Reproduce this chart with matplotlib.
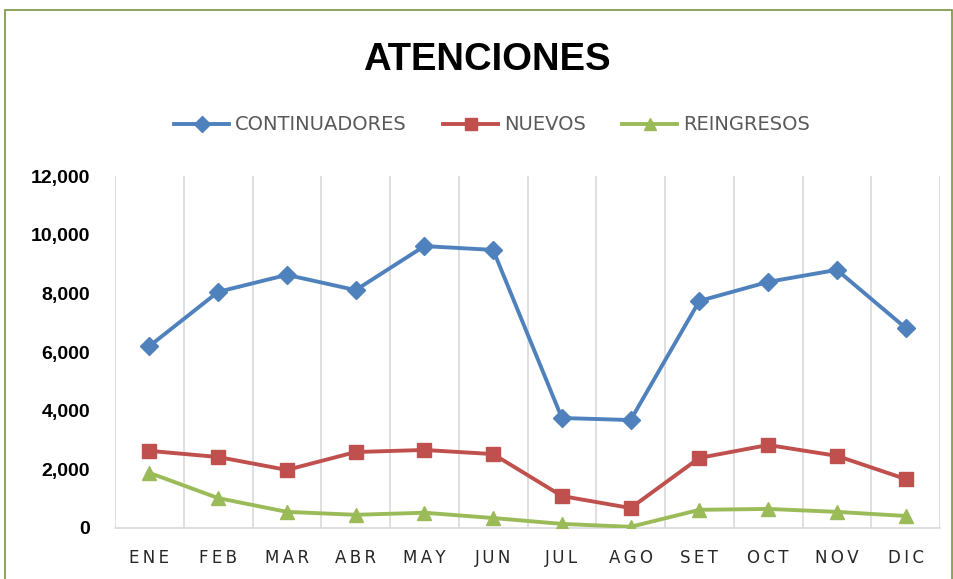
import matplotlib
matplotlib.use("Agg")
import matplotlib.pyplot as plt
from matplotlib.lines import Line2D
from matplotlib.patches import Rectangle

months = ["ENE", "FEB", "MAR", "ABR", "MAY", "JUN", "JUL", "AGO", "SET", "OCT", "NOV", "DIC"]
continuadores = [6200, 8050, 8630, 8110, 9610, 9480, 3750, 3680, 7740, 8390, 8800, 6820]
nuevos = [2630, 2420, 1980, 2590, 2660, 2520, 1090, 680, 2390, 2830, 2460, 1670]
reingresos = [1880, 1020, 550, 450, 520, 340, 140, 40, 620, 650, 550, 410]
yticks = [0, 2000, 4000, 6000, 8000, 10000, 12000]

series = [("CONTINUADORES", continuadores, "#4F81BD", "D", 9),
          ("NUEVOS", nuevos, "#C0504D", "s", 10.5),
          ("REINGRESOS", reingresos, "#9BBB59", "^", 10.5)]

fig = plt.figure(figsize=(9.54, 5.79), dpi=100)
ax = fig.add_axes([115/954, 51/579, 825/954, 352/579])

x = list(range(len(months)))
for name, vals, c, m, ms in series:
    ax.plot(x, vals, color=c, lw=2.8, marker=m, markersize=ms, label=name, zorder=3)

ax.set_xlim(-0.5, len(months) - 0.5)
ax.set_ylim(0, 12000)
ax.set_yticks(yticks)
ax.set_yticklabels([f"{v:,}" for v in yticks], fontsize=14, fontweight="bold",
                   family="Liberation Sans")
ax.set_xticks(x)
ax.set_xticklabels(["\u2009".join(mo) for mo in months], fontsize=12, color="#262626",
                   family="DejaVu Sans")
ax.tick_params(axis="both", length=0)
ax.tick_params(axis="x", pad=15)
ax.tick_params(axis="y", pad=18)
for b in [i - 0.5 for i in range(len(months) + 1)]:
    ax.axvline(b, color="#D9D9D9", lw=1.2, zorder=1)
for s in ["top", "right", "left"]:
    ax.spines[s].set_visible(False)
ax.spines["bottom"].set_color("#D9D9D9")
ax.spines["bottom"].set_linewidth(1.2)

fig.text(487/954, 1 - 60/579, "ATENCIONES", ha="center", va="center", fontsize=27.5,
         fontweight="bold", family="Liberation Sans")

handles = [Line2D([], [], color=c, lw=2.8, marker=m, markersize=ms * 0.85) for _, _, c, m, ms in series]
fig.legend(handles, [s[0] for s in series], loc="center", bbox_to_anchor=(492/954, 1 - 125/579),
           ncol=3, frameon=False, labelcolor="#595959", handlelength=2.8,
           columnspacing=1.9, handletextpad=0.3, prop={"family": "DejaVu Sans", "size": 14})

fig.patches.append(Rectangle((5/954, -0.05), 947/954, 1.05 - 10/579, transform=fig.transFigure,
                             fill=False, edgecolor="#77933C", lw=1.2))

fig.savefig("out.png", dpi=100)
